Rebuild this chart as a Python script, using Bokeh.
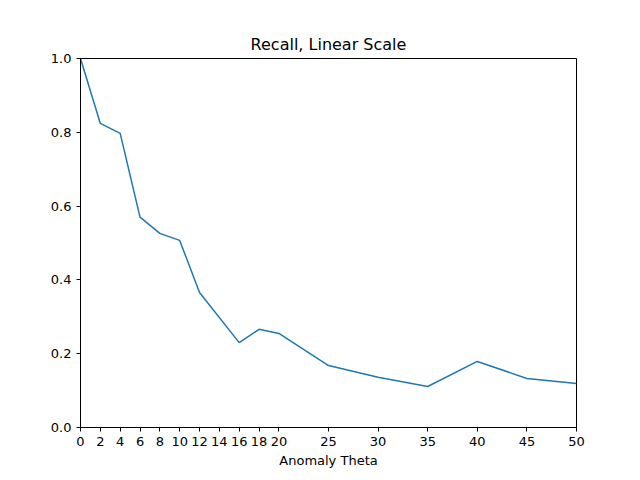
from bokeh.plotting import figure
from bokeh.models import FixedTicker, Range1d, CustomJSTickFormatter
from bokeh.embed import file_html
from bokeh.resources import INLINE

theta = [0, 2, 4, 6, 8, 10, 12, 16, 18, 20, 25, 30, 35, 40, 45, 50]
recall = [1.0, 0.824, 0.797, 0.570, 0.526, 0.507, 0.366, 0.230, 0.266, 0.255, 0.168, 0.136, 0.111, 0.179, 0.133, 0.119]
xticks = [0, 2, 4, 6, 8, 10, 12, 14, 16, 18, 20, 25, 30, 35, 40, 45, 50]
yticks = [0.0, 0.2, 0.4, 0.6, 0.8, 1.0]

p = figure(width=630, height=472, output_backend="svg", toolbar_location=None,
           title="Recall, Linear Scale", x_range=Range1d(0, 50), y_range=Range1d(0, 1),
           min_border_left=80, min_border_right=54, min_border_top=58, min_border_bottom=45)
p.line(theta, recall, line_color="#1f77b4", line_width=1.5)
p.title.align = "center"
p.title.text_font = "DejaVu Sans"
p.title.text_font_size = "16px"
p.title.text_font_style = "normal"
p.title.text_color = "black"
p.grid.visible = False
p.outline_line_color = "black"
p.outline_line_alpha = 1
p.xaxis.axis_label = "Anomaly Theta"
p.xaxis.ticker = FixedTicker(ticks=xticks)
p.yaxis.ticker = FixedTicker(ticks=yticks)
p.yaxis.formatter = CustomJSTickFormatter(code="return tick.toFixed(1);")
for ax in (p.xaxis[0], p.yaxis[0]):
    ax.axis_label_text_font = "DejaVu Sans"
    ax.axis_label_text_font_size = "13px"
    ax.axis_label_text_font_style = "normal"
    ax.axis_label_text_color = "black"
    ax.axis_label_standoff = 4
    ax.major_label_text_font = "DejaVu Sans"
    ax.major_label_text_font_size = "13px"
    ax.major_label_text_color = "black"
    ax.minor_tick_line_color = None
    ax.major_tick_in = 0
    ax.major_tick_out = 4
    ax.axis_line_color = "black"
    ax.major_tick_line_color = "black"

open("out.html", "w").write(file_html(p, INLINE))
